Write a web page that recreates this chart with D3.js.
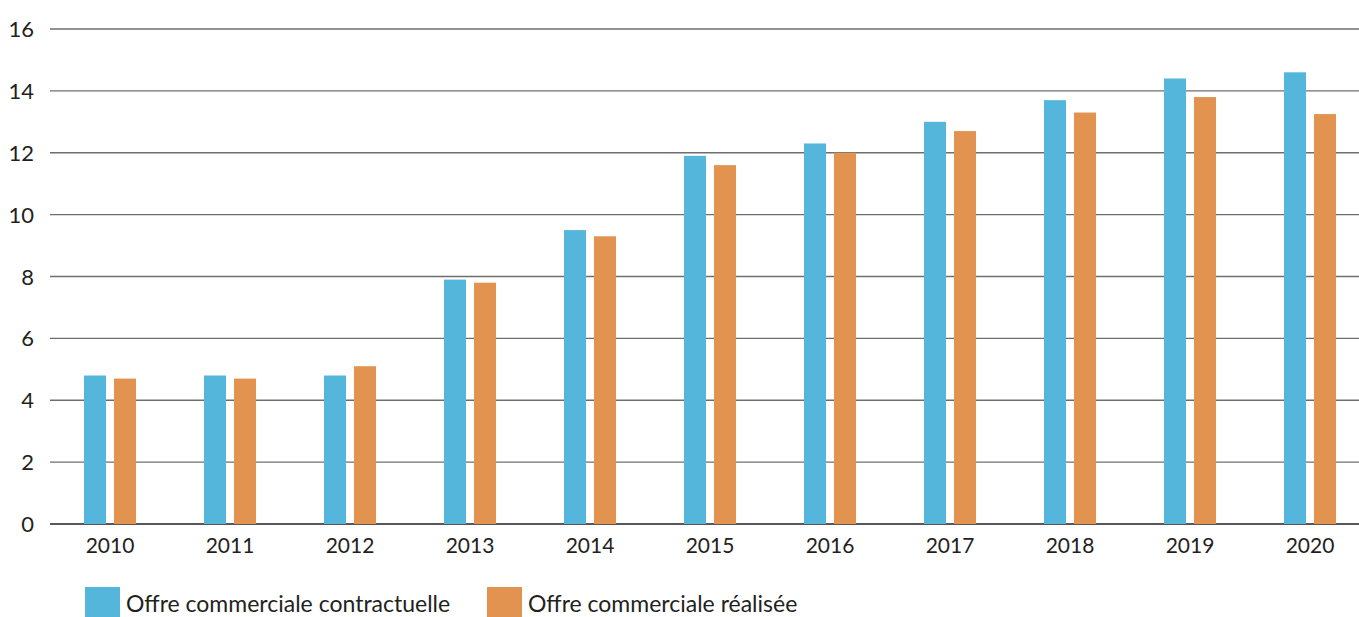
<!DOCTYPE html>
<html>
<head>
<meta charset="utf-8">
<script src="https://cdn.jsdelivr.net/npm/d3@7"></script>
<style>
  html, body { margin: 0; padding: 0; background: #fff; }
  svg { display: block; }
  text { font-family: Lato, "Open Sans", sans-serif; fill: #231f20; }
</style>
</head>
<body>
<svg id="chart" width="1359" height="617"></svg>
<script>
// Years on the horizontal axis
const years = ["2010", "2011", "2012", "2013", "2014", "2015", "2016", "2017", "2018", "2019", "2020"];
// Series names (legend)
const seriesNames = ["Offre commerciale contractuelle", "Offre commerciale réalisée"];
// Values per series
const contractuelle = [4.8, 4.8, 4.8, 7.9, 9.5, 11.9, 12.3, 13.0, 13.7, 14.4, 14.6];
const realisee      = [4.7, 4.7, 5.1, 7.8, 9.3, 11.6, 12.0, 12.7, 13.3, 13.8, 13.25];
// Y axis ticks
const yTicks = [0, 2, 4, 6, 8, 10, 12, 14, 16];
const colors = ["#54b6da", "#e2934f"];

const svg = d3.select("#chart");
const W = 1359;
const gridLeft = 50;

const x = d3.scaleBand().domain(years).range([50, 1370]).paddingInner(0).paddingOuter(0);
const xInner = d3.scaleBand().domain(seriesNames).range([-26, 26]).paddingInner(0.2667).paddingOuter(0);
const y = d3.scaleLinear().domain([0, 16]).range([524, 29]);

// Horizontal grid lines
svg.append("g")
  .selectAll("line")
  .data(yTicks)
  .join("line")
  .attr("x1", gridLeft)
  .attr("x2", W)
  .attr("y1", d => y(d))
  .attr("y2", d => y(d))
  .attr("stroke", d => d === 0 ? "#231f20" : "#6e6e6e")
  .attr("stroke-width", d => d === 0 ? 1.6 : 1.4);

// Y tick labels
svg.append("g")
  .selectAll("text")
  .data(yTicks)
  .join("text")
  .attr("x", 34)
  .attr("y", d => y(d) + 8)
  .attr("text-anchor", "end")
  .attr("font-size", 22)
  .text(d => d);

// Bars
const series = [contractuelle, realisee];
series.forEach((vals, si) => {
  svg.append("g")
    .selectAll("rect")
    .data(vals)
    .join("rect")
    .attr("x", (d, i) => x(years[i]) + x.bandwidth() / 2 + xInner(seriesNames[si]))
    .attr("width", xInner.bandwidth())
    .attr("y", d => y(d))
    .attr("height", d => y(0) - y(d))
    .attr("fill", colors[si]);
});

// X labels
svg.append("g")
  .selectAll("text")
  .data(years)
  .join("text")
  .attr("x", d => x(d) + x.bandwidth() / 2)
  .attr("y", 553)
  .attr("text-anchor", "middle")
  .attr("font-size", 21)
  .text(d => d);

// Legend
const legendX = [85, 487];
const lg = svg.append("g");
seriesNames.forEach((name, i) => {
  lg.append("rect")
    .attr("x", legendX[i])
    .attr("y", 587)
    .attr("width", 35)
    .attr("height", 31)
    .attr("fill", colors[i]);
  lg.append("text")
    .attr("x", legendX[i] + 41)
    .attr("y", 612)
    .attr("font-size", 23)
    .text(name);
});
</script>
</body>
</html>
